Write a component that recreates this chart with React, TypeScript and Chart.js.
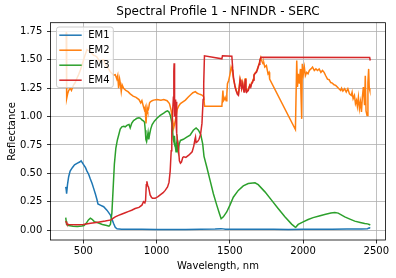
import React, { useEffect, useRef } from 'react';
import { Chart, registerables } from 'chart.js';

Chart.register(...registerables);

const FONT = "'DejaVu Sans', sans-serif";

const titleText = 'Spectral Profile 1 - NFINDR - SERC';
const xTitle = 'Wavelength, nm';
const yTitle = 'Reflectance';

const seriesNames = ['EM1', 'EM2', 'EM3', 'EM4'];
const seriesColors = ['#1f77b4', '#ff7f0e', '#2ca02c', '#d62728'];

const xTicks = [500, 1000, 1500, 2000, 2500];
const yTicks = [0, 0.25, 0.5, 0.75, 1.0, 1.25, 1.5, 1.75];

// EM1
const em1Wl = [380, 383, 386, 392, 400, 410, 425, 440, 460, 475, 485, 495, 505, 515, 525, 537, 548, 560, 570, 582, 593, 600, 616, 639, 661, 684, 695, 706, 718, 730, 760, 800, 900, 1000, 1100, 1200, 1300, 1400, 1440, 1455, 1470, 1500, 1600, 1700, 1800, 1900, 2000, 2100, 2200, 2300, 2400, 2440, 2452, 2459];
const em1Val = [0.38, 0.36, 0.32, 0.40, 0.47, 0.52, 0.55, 0.575, 0.59, 0.60, 0.61, 0.59, 0.57, 0.55, 0.52, 0.49, 0.45, 0.41, 0.37, 0.32, 0.27, 0.23, 0.22, 0.206, 0.176, 0.135, 0.10, 0.06, 0.025, 0.012, 0.008, 0.008, 0.007, 0.006, 0.006, 0.006, 0.007, 0.009, 0.012, 0.011, 0.007, 0.007, 0.008, 0.008, 0.007, 0.006, 0.007, 0.008, 0.008, 0.009, 0.01, 0.013, 0.02, 0.016];

// EM2
const em2Wl = [380, 383, 385, 388, 393, 400, 411, 419, 434, 445, 457, 468, 480, 490, 502, 514, 525, 536, 548, 559, 570, 582, 593, 605, 616, 628, 639, 650, 661, 672, 684, 696, 707, 718, 729, 735, 741, 748, 752, 759, 765, 775, 790, 805, 820, 840, 860, 880, 892, 900, 910, 917, 922, 928, 935, 940, 946, 952, 958, 970, 980, 1003, 1030, 1049, 1072, 1088, 1099, 1110, 1117, 1122, 1129, 1140, 1150, 1163, 1180, 1197, 1215, 1231, 1248, 1265, 1278, 1288, 1300, 1310, 1322, 1328, 1446, 1453, 1457, 1462, 1468, 1475, 1480, 1484, 1493, 1502, 1509, 1516, 1520, 1525, 1536, 1545, 1552, 1559, 1565, 1570, 1576, 1581, 1588, 1597, 1602, 1606, 1610, 1615, 1626, 1637, 1643, 1649, 1655, 1660, 1665, 1671, 1682, 1694, 1705, 1712, 1716, 1722, 1727, 1733, 1739, 1750, 1761, 1768, 1772, 1948, 1957, 1962, 1968, 1975, 1982, 1986, 1991, 1995, 2002, 2009, 2016, 2025, 2034, 2043, 2054, 2065, 2077, 2088, 2099, 2110, 2122, 2133, 2144, 2155, 2167, 2178, 2189, 2200, 2212, 2223, 2234, 2245, 2257, 2263, 2272, 2284, 2295, 2306, 2317, 2329, 2335, 2342, 2351, 2358, 2365, 2371, 2378, 2385, 2392, 2399, 2405, 2412, 2420, 2425, 2430, 2437, 2443, 2448, 2452, 2456, 2459];
const em2Val = [1.74, 1.74, 1.45, 1.16, 1.20, 1.23, 1.25, 1.23, 1.28, 1.30, 1.34, 1.37, 1.41, 1.45, 1.50, 1.55, 1.59, 1.58, 1.57, 1.555, 1.54, 1.535, 1.525, 1.50, 1.48, 1.50, 1.50, 1.46, 1.44, 1.42, 1.395, 1.38, 1.365, 1.37, 1.33, 1.36, 1.25, 1.33, 1.30, 1.22, 1.28, 1.25, 1.23, 1.22, 1.20, 1.18, 1.17, 1.15, 1.12, 1.14, 1.09, 1.06, 1.08, 0.94, 1.08, 1.05, 1.07, 1.12, 1.13, 1.14, 1.145, 1.15, 1.145, 1.15, 1.14, 1.115, 1.06, 0.97, 0.90, 0.93, 0.97, 1.06, 1.09, 1.115, 1.13, 1.145, 1.17, 1.19, 1.21, 1.22, 1.205, 1.20, 1.195, 1.19, 1.175, 1.09, 1.09, 1.23, 1.14, 1.15, 1.17, 1.14, 1.20, 1.29, 1.32, 1.377, 1.436, 1.41, 1.38, 1.33, 1.27, 1.23, 1.21, 1.20, 1.27, 1.33, 1.29, 1.25, 1.30, 1.225, 1.28, 1.34, 1.27, 1.225, 1.24, 1.28, 1.27, 1.30, 1.31, 1.33, 1.37, 1.38, 1.40, 1.44, 1.49, 1.52, 1.50, 1.48, 1.465, 1.47, 1.436, 1.45, 1.377, 1.39, 1.33, 0.886, 1.494, 1.26, 1.377, 1.29, 1.42, 1.20, 0.98, 1.465, 1.377, 1.436, 1.36, 1.39, 1.377, 1.406, 1.42, 1.436, 1.406, 1.42, 1.406, 1.42, 1.39, 1.406, 1.39, 1.36, 1.33, 1.325, 1.30, 1.295, 1.28, 1.275, 1.26, 1.245, 1.23, 1.25, 1.225, 1.245, 1.216, 1.245, 1.20, 1.187, 1.216, 1.158, 1.187, 1.114, 1.143, 1.09, 1.17, 1.07, 1.13, 1.04, 1.17, 1.26, 1.10, 1.36, 1.05, 1.01, 1.30, 1.42, 1.25, 1.23];

// EM3
const em3Wl = [380, 383, 386, 400, 430, 460, 490, 505, 520, 535, 548, 560, 575, 600, 630, 660, 675, 685, 695, 703, 712, 722, 732, 742, 752, 763, 775, 786, 800, 812, 820, 830, 843, 855, 866, 880, 890, 900, 912, 918, 923, 927, 932, 937, 942, 947, 952, 960, 970, 985, 1003, 1025, 1049, 1065, 1075, 1085, 1094, 1102, 1108, 1114, 1118, 1122, 1127, 1133, 1137, 1140, 1144, 1148, 1155, 1163, 1183, 1206, 1229, 1251, 1270, 1286, 1302, 1315, 1324, 1342, 1365, 1388, 1411, 1429, 1441, 1456, 1479, 1501, 1524, 1558, 1592, 1626, 1672, 1694, 1740, 1785, 1830, 1876, 1922, 1944, 1950, 1967, 2001, 2035, 2069, 2110, 2148, 2190, 2217, 2240, 2285, 2320, 2353, 2390, 2421, 2440, 2452, 2459];
const em3Val = [0.11, 0.08, 0.05, 0.04, 0.035, 0.033, 0.036, 0.04, 0.06, 0.09, 0.105, 0.095, 0.075, 0.065, 0.05, 0.04, 0.035, 0.05, 0.15, 0.35, 0.58, 0.72, 0.79, 0.84, 0.89, 0.91, 0.915, 0.91, 0.925, 0.93, 0.90, 0.94, 0.965, 0.975, 0.985, 0.99, 0.985, 0.97, 0.96, 0.95, 0.88, 0.80, 0.78, 0.82, 0.86, 0.80, 0.84, 0.89, 0.93, 0.96, 0.985, 1.01, 1.03, 1.045, 1.05, 1.04, 1.01, 0.96, 0.90, 0.80, 0.78, 0.83, 0.75, 0.69, 0.76, 0.79, 0.72, 0.69, 0.76, 0.79, 0.80, 0.82, 0.837, 0.88, 0.90, 0.88, 0.84, 0.76, 0.65, 0.56, 0.44, 0.32, 0.22, 0.147, 0.10, 0.117, 0.16, 0.22, 0.29, 0.35, 0.39, 0.41, 0.417, 0.40, 0.337, 0.264, 0.19, 0.117, 0.053, 0.029, 0.025, 0.05, 0.073, 0.094, 0.11, 0.125, 0.138, 0.15, 0.156, 0.15, 0.117, 0.097, 0.079, 0.068, 0.059, 0.055, 0.05, 0.044];

// EM4
const em4Wl = [380, 383, 388, 400, 450, 500, 550, 600, 650, 690, 705, 718, 740, 760, 786, 810, 830, 854, 880, 900, 911, 920, 925, 930, 934, 940, 945, 950, 956, 965, 972, 990, 1010, 1025, 1045, 1059, 1075, 1085, 1093, 1100, 1104, 1110, 1115, 1118, 1120, 1122, 1124, 1127, 1130, 1133, 1136, 1139, 1142, 1149, 1156, 1163, 1170, 1179, 1186, 1200, 1220, 1243, 1254, 1262, 1266, 1270, 1280, 1290, 1300, 1310, 1318, 1322, 1327, 1446, 1450, 1514, 1520, 1525, 1536, 1545, 1552, 1559, 1565, 1570, 1576, 1581, 1588, 1597, 1602, 1606, 1610, 1615, 1626, 1637, 1643, 1649, 1655, 1660, 1665, 1671, 1677, 1682, 1688, 1694, 1700, 1705, 1712, 2455, 2459];
const em4Val = [0.08, 0.07, 0.055, 0.05, 0.048, 0.05, 0.06, 0.07, 0.08, 0.09, 0.105, 0.117, 0.13, 0.14, 0.153, 0.165, 0.175, 0.19, 0.20, 0.22, 0.25, 0.24, 0.26, 0.40, 0.43, 0.39, 0.38, 0.35, 0.31, 0.29, 0.28, 0.28, 0.295, 0.31, 0.33, 0.35, 0.38, 0.42, 0.52, 0.70, 0.88, 1.05, 1.17, 1.40, 1.47, 1.10, 1.00, 1.08, 1.15, 0.95, 1.13, 0.85, 0.80, 0.73, 0.61, 0.59, 0.60, 0.64, 0.645, 0.64, 0.66, 0.69, 0.74, 0.80, 0.82, 0.77, 0.78, 0.80, 0.84, 0.94, 1.15, 1.29, 1.535, 1.509, 1.535, 1.532, 1.42, 1.35, 1.26, 1.22, 1.196, 1.187, 1.26, 1.32, 1.28, 1.245, 1.29, 1.216, 1.27, 1.33, 1.26, 1.216, 1.23, 1.275, 1.26, 1.29, 1.30, 1.32, 1.36, 1.377, 1.385, 1.39, 1.41, 1.436, 1.46, 1.494, 1.523, 1.52, 1.494];

const seriesWl = [em1Wl, em2Wl, em3Wl, em4Wl];
const seriesVal = [em1Val, em2Val, em3Val, em4Val];

const X_MIN = 276;
const X_MAX = 2563;
const Y_MIN = -0.087;
const Y_MAX = 1.827;

const frameAndLegend = {
  id: 'frameAndLegend',
  afterDatasetsDraw(chart: any) {
    const { ctx, chartArea } = chart;
    const { left, top, right, bottom } = chartArea;
    ctx.save();
    ctx.strokeStyle = '#000';
    ctx.lineWidth = 0.8;
    ctx.strokeRect(left, top, right - left, bottom - top);

    const x0 = left + 6;
    const y0 = top + 4.3;
    const w = 56.8;
    const h = 60.5;
    const r = 2.5;
    ctx.beginPath();
    ctx.moveTo(x0 + r, y0);
    ctx.lineTo(x0 + w - r, y0);
    ctx.arcTo(x0 + w, y0, x0 + w, y0 + r, r);
    ctx.lineTo(x0 + w, y0 + h - r);
    ctx.arcTo(x0 + w, y0 + h, x0 + w - r, y0 + h, r);
    ctx.lineTo(x0 + r, y0 + h);
    ctx.arcTo(x0, y0 + h, x0, y0 + h - r, r);
    ctx.lineTo(x0, y0 + r);
    ctx.arcTo(x0, y0, x0 + r, y0, r);
    ctx.closePath();
    ctx.fillStyle = 'rgba(255,255,255,0.8)';
    ctx.fill();
    ctx.strokeStyle = '#cccccc';
    ctx.lineWidth = 1;
    ctx.stroke();

    ctx.font = `10px ${FONT}`;
    ctx.textBaseline = 'middle';
    ctx.textAlign = 'left';
    seriesNames.forEach((name, i) => {
      const y = y0 + 8.2 + i * 15;
      ctx.beginPath();
      ctx.moveTo(x0 + 2.8, y);
      ctx.lineTo(x0 + 25.2, y);
      ctx.strokeStyle = seriesColors[i];
      ctx.lineWidth = 1.5;
      ctx.stroke();
      ctx.fillStyle = '#000';
      ctx.fillText(name, x0 + 31.8, y + 0.5);
    });
    ctx.restore();
  },
};

export default function App() {
  const canvasRef = useRef<HTMLCanvasElement | null>(null);

  useEffect(() => {
    const canvas = canvasRef.current;
    if (!canvas) return;
    const datasets = seriesNames.map((name, i) => ({
      label: name,
      data: seriesWl[i].map((x, j) => ({ x, y: seriesVal[i][j] })),
      borderColor: seriesColors[i],
      backgroundColor: seriesColors[i],
      borderWidth: 1.5,
      pointRadius: 0,
      tension: 0,
      fill: false,
      order: 4 - i,
    }));

    const chart = new Chart(canvas, {
      type: 'line',
      data: { datasets },
      plugins: [frameAndLegend],
      options: {
        animation: false,
        responsive: false,
        devicePixelRatio: 1,
        events: [],
        layout: { padding: { left: 0, right: 10.5, top: 0, bottom: 0 } },
        plugins: {
          legend: { display: false },
          tooltip: { enabled: false },
          title: {
            display: true,
            text: titleText,
            color: '#000',
            fullSize: false,
            font: { family: FONT, size: 12, weight: 'normal', lineHeight: 1.2 },
            padding: { top: 5, bottom: 3.3 },
          },
        },
        scales: {
          x: {
            type: 'linear',
            min: X_MIN,
            max: X_MAX,
            afterFit: (scale: any) => {
              scale.height = 38;
            },
            afterBuildTicks: (scale: any) => {
              scale.ticks = xTicks.map((v) => ({ value: v }));
            },
            ticks: {
              color: '#000',
              font: { family: FONT, size: 10 },
              padding: 2,
              maxRotation: 0,
              autoSkip: false,
              callback: (v: any) => String(v),
            },
            grid: {
              color: '#b0b0b0',
              lineWidth: 0.8,
              drawTicks: true,
              tickLength: 3.5,
              tickColor: '#000',
              tickWidth: 0.8,
            },
            border: { display: false },
            title: {
              display: true,
              text: xTitle,
              color: '#000',
              font: { family: FONT, size: 10, lineHeight: 1.2 },
              padding: { top: 0, bottom: 5.5 },
            },
          },
          y: {
            type: 'linear',
            min: Y_MIN,
            max: Y_MAX,
            afterFit: (scale: any) => {
              scale.width = 50.5;
            },
            afterBuildTicks: (scale: any) => {
              scale.ticks = yTicks.map((v) => ({ value: v }));
            },
            ticks: {
              color: '#000',
              font: { family: FONT, size: 10 },
              padding: 4.7,
              autoSkip: false,
              callback: (v: any) => Number(v).toFixed(2),
            },
            grid: {
              color: '#b0b0b0',
              lineWidth: 0.8,
              drawTicks: true,
              tickLength: 3.5,
              tickColor: '#000',
              tickWidth: 0.8,
            },
            border: { display: false },
            title: {
              display: true,
              text: yTitle,
              color: '#000',
              font: { family: FONT, size: 10, lineHeight: 1.2 },
              padding: { top: 6.5, bottom: 0 },
            },
          },
        },
      },
    } as any);

    return () => {
      chart.destroy();
    };
  }, []);

  return (
    <div style={{ position: 'absolute', left: 0, top: 0, width: 396, height: 278, background: '#fff' }}>
      <canvas ref={canvasRef} width={396} height={278} style={{ display: 'block', width: 396, height: 278 }} />
    </div>
  );
}
